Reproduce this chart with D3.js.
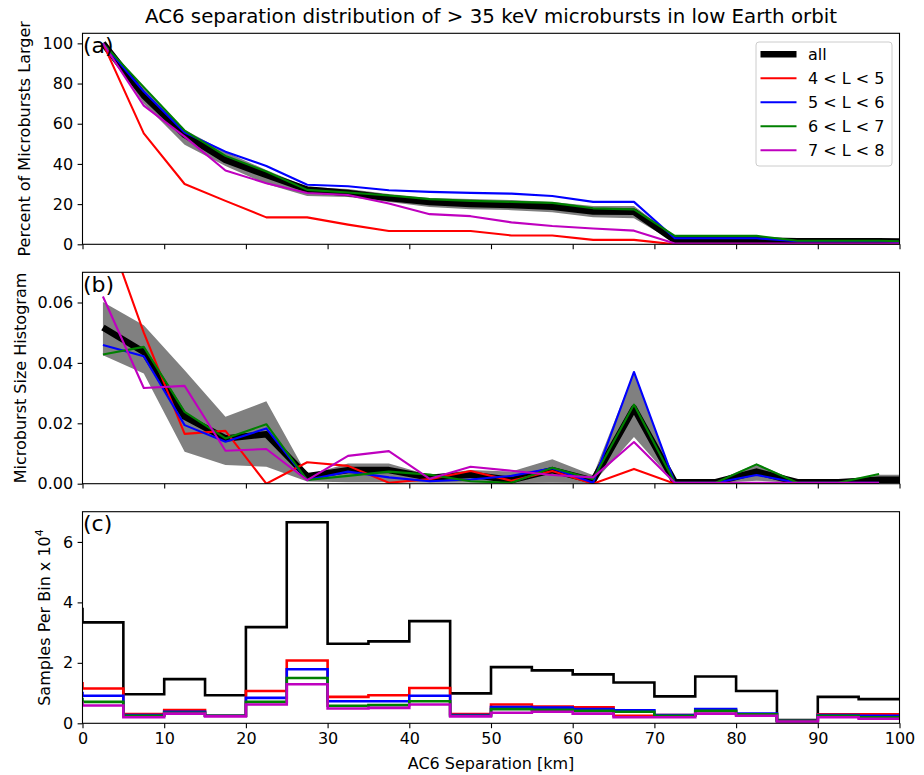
<!DOCTYPE html>
<html>
<head>
<meta charset="utf-8">
<script src="https://cdn.jsdelivr.net/npm/d3@7"></script>
<style>
  html, body { margin: 0; padding: 0; background: #fff; }
  svg { display: block; }
  text { font-family: "DejaVu Sans", sans-serif; fill: #000; }
</style>
</head>
<body>
<svg id="chart" width="924" height="775"></svg>
<script>
// ---------------- DATA ----------------
const chartTitle = "AC6 separation distribution of > 35 keV microbursts in low Earth orbit";
const xLabel = "AC6 Separation [km]";
const xTicks = [0, 10, 20, 30, 40, 50, 60, 70, 80, 90, 100];
const yTicksA = [0, 20, 40, 60, 80, 100];
const yTicksB = [0, 0.02, 0.04, 0.06];
const yTicksC = [0, 2, 4, 6];
const seriesNames = ["all", "4 < L < 5", "5 < L < 6", "6 < L < 7", "7 < L < 8"];

// bin centres (km) for panels (a) and (b)
const binCenters = [2.5, 7.5, 12.5, 17.5, 22.5, 27.5, 32.5, 37.5, 42.5, 47.5, 52.5,
                    57.5, 62.5, 67.5, 72.5, 77.5, 82.5, 87.5, 92.5, 97.5, 102.5];

// (a) Percent of microbursts larger
const aAll     = [100, 74, 54.5, 42, 34.5, 27.3, 25.5, 23, 21, 20, 19.5, 18.7, 16.3, 16.2, 2, 2, 2, 1.5, 1.5, 1.5, 1.2];
const aAllLow  = [100, 70, 49.5, 39, 30, 24, 23.5, 21, 18.5, 17.5, 17, 16, 13.5, 13, 1, 1, 1, 1, 1, 1, 1];
const aAllHigh = [100, 78, 57, 46, 37, 28.5, 27.5, 25, 23, 22.5, 22, 21, 19, 19, 4, 4, 4, 2.5, 2.5, 2.5, 2.3];
const aL45 = [100, 55.2, 30, 21.6, 13.4, 13.4, 9.8, 6.6, 6.6, 6.6, 4.4, 4.4, 2.2, 2.2, 0, 0, 0, 0, 0, 0, 0];
const aL56 = [100, 76, 55.6, 46.1, 39, 29.6, 28.9, 26.9, 26.1, 25.6, 25.2, 24, 21.1, 21.1, 3, 3, 3, 1.5, 1.5, 1.5, 1.0];
const aL67 = [100, 78.2, 56.6, 44, 36.2, 27.1, 25.8, 24.3, 22.5, 21.6, 21.1, 20.6, 17.9, 17.4, 4.2, 4.2, 4.2, 1.8, 1.8, 1.8, 1.3];
const aL78 = [100, 69, 53.6, 36.7, 30.4, 25.5, 24.5, 20.3, 15, 14, 10.9, 9.1, 7.9, 6.8, 0.4, 0.4, 0.4, 0.4, 0.4, 0.4, 0.4];

// (b) Microburst size histogram
const bAll     = [0.0517, 0.0436, 0.0222, 0.0150, 0.0164, 0.0025, 0.0045, 0.0045, 0.0020, 0.0030, 0.0012,
                  0.0045, 0.0010, 0.0250, 0.0005, 0.0005, 0.0040, 0.0005, 0.0005, 0.0013, 0.0013];
const bAllLow  = [0.0425, 0.0365, 0.0106, 0.0062, 0.0056, 0.0007, 0.0005, 0.0005, 0.0003, 0.0003, 0.0002,
                  0.0003, 0.0002, 0.0155, 0.0002, 0.0002, 0.0010, 0.0002, 0.0002, 0.0002, 0.0002];
const bAllHigh = [0.0602, 0.0525, 0.0376, 0.0222, 0.0273, 0.0029, 0.0067, 0.0067, 0.0028, 0.0045, 0.0040,
                  0.0081, 0.0028, 0.0370, 0.0008, 0.0008, 0.0066, 0.0008, 0.0008, 0.0030, 0.0030];
const bL45 = [0.088, 0.050, 0.0165, 0.0175, 0.0, 0.0071, 0.0059, 0.0003, 0.0015, 0.0042, 0.0010,
              0.0042, 0.0, 0.0049, 0, 0, 0, 0, 0, 0, null];
const bL56 = [0.0459, 0.0422, 0.0194, 0.0139, 0.0183, 0.0012, 0.0040, 0.0021, 0.0008, 0.0014, 0.0026,
              0.0051, 0.0003, 0.0370, 0.0003, 0.0003, 0.0029, 0.0003, 0.0003, 0.0003, null];
const bL67 = [0.0428, 0.0453, 0.0238, 0.0150, 0.0197, 0.0012, 0.0026, 0.0040, 0.0030, 0.0008, 0.0003,
              0.0053, 0.0015, 0.0262, 0.0003, 0.0003, 0.0064, 0.0003, 0.0003, 0.0032, null];
const bL78 = [0.0620, 0.0317, 0.0324, 0.0109, 0.0115, 0.0012, 0.0092, 0.0108, 0.0016, 0.0056, 0.0043,
              0.0029, 0.0021, 0.0138, 0.0003, 0.0003, 0.0003, 0.0003, 0.0003, 0.0003, null];

// (c) Samples per bin x 10^4, bins starting at left edge (km)
const binEdges = [-5, 0, 5, 10, 15, 20, 25, 30, 35, 40, 45, 50, 55, 60, 65, 70, 75, 80, 85, 90, 95];
const cAll = [3.78, 3.34, 0.96, 1.46, 0.93, 3.18, 6.65, 2.63, 2.71, 3.38, 0.99, 1.86, 1.75, 1.62, 1.35, 0.89, 1.55, 1.07, 0.11, 0.875, 0.80];
const cL45 = [1.32, 1.15, 0.31, 0.44, 0.25, 1.07, 2.08, 0.875, 0.93, 1.17, 0.31, 0.62, 0.55, 0.53, 0.25, 0.27, 0.41, 0.30, 0.08, 0.30, 0.30];
const cL56 = [1.00, 0.91, 0.27, 0.38, 0.25, 0.84, 1.79, 0.73, 0.73, 0.91, 0.27, 0.54, 0.52, 0.47, 0.43, 0.27, 0.47, 0.32, 0.08, 0.27, 0.25];
const cL67 = [0.80, 0.71, 0.25, 0.35, 0.25, 0.71, 1.50, 0.58, 0.60, 0.73, 0.25, 0.47, 0.45, 0.41, 0.38, 0.25, 0.41, 0.30, 0.08, 0.25, 0.20];
const cL78 = [0.68, 0.59, 0.20, 0.32, 0.23, 0.62, 1.29, 0.49, 0.51, 0.62, 0.23, 0.35, 0.38, 0.32, 0.20, 0.20, 0.32, 0.25, 0.06, 0.20, 0.15];
const binWidth = 5;

// ---------------- STYLE ----------------
const colors = ["#000000", "#ff0000", "#0000ff", "#008000", "#bf00bf"];
const bandColor = "#808080";
const allWidth = 6.5, lWidth = 2.1, stepWidth = 2.6;
const fs = 16;

// ---------------- LAYOUT ----------------
const svg = d3.select("#chart");
const left = 82.5, right = 899.5;
const panels = [
  { id: "a", top: 33.3, bottom: 244.3, domain: [0, 105], ticks: yTicksA, fmt: d3.format("d"), label: "(a)",
    ylab: "Percent of Microbursts Larger", ylabX: 30 },
  { id: "b", top: 272.3, bottom: 483.7, domain: [0, 0.07], ticks: yTicksB, fmt: d3.format(".2f"), label: "(b)",
    ylab: "Microburst Size Histogram", ylabX: 26 },
  { id: "c", top: 511.7, bottom: 723.3, domain: [0, 7], ticks: yTicksC, fmt: d3.format("d"), label: "(c)",
    ylab: null, ylabX: 50 }
];

const x = d3.scaleLinear().domain([0, 100]).range([left, right]);

// title
svg.append("text").attr("x", (left + right) / 2).attr("y", 23).attr("text-anchor", "middle")
  .style("font-size", "19.8px").text(chartTitle);

panels.forEach(p => {
  p.y = d3.scaleLinear().domain(p.domain).range([p.bottom, p.top]);
  p.g = svg.append("g");
  svg.append("clipPath").attr("id", "clip-" + p.id).append("rect")
    .attr("x", left).attr("y", p.top).attr("width", right - left).attr("height", p.bottom - p.top);
  p.plot = p.g.append("g").attr("clip-path", `url(#clip-${p.id})`);
});

// ---------- panels (a) and (b) ----------
function drawLinePanel(p, all, low, high, series) {
  const area = d3.area().x((d, i) => x(binCenters[i])).y0(d => p.y(d[0])).y1(d => p.y(d[1]));
  p.plot.append("path").datum(low.map((v, i) => [v, high[i]]))
    .attr("d", area).attr("fill", bandColor).attr("stroke", "none");
  const line = d3.line().defined(d => d != null).x((d, i) => x(binCenters[i])).y(d => p.y(d));
  p.plot.append("path").datum(all).attr("d", line).attr("fill", "none")
    .attr("stroke", colors[0]).attr("stroke-width", allWidth).attr("stroke-linejoin", "round");
  series.forEach((s, k) => {
    p.plot.append("path").datum(s).attr("d", line).attr("fill", "none")
      .attr("stroke", colors[k + 1]).attr("stroke-width", lWidth).attr("stroke-linejoin", "round");
  });
}
drawLinePanel(panels[0], aAll, aAllLow, aAllHigh, [aL45, aL56, aL67, aL78]);
drawLinePanel(panels[1], bAll, bAllLow, bAllHigh, [bL45, bL56, bL67, bL78]);

// ---------- panel (c) ----------
{
  const p = panels[2];
  const step = d3.line().curve(d3.curveStepAfter).x(d => x(d[0])).y(d => p.y(d[1]));
  [cAll, cL45, cL56, cL67, cL78].forEach((s, k) => {
    const pts = s.map((v, i) => [binEdges[i], v]);
    pts.push([binEdges[binEdges.length - 1] + binWidth, s[s.length - 1]]);
    p.plot.append("path").datum(pts).attr("d", step).attr("fill", "none")
      .attr("stroke", colors[k]).attr("stroke-width", stepWidth);
  });
}

// ---------- axes ----------
panels.forEach((p, idx) => {
  const yAxis = d3.axisLeft(p.y).tickValues(p.ticks).tickFormat(p.fmt).tickSize(4.9).tickPadding(4.5);
  const ga = p.g.append("g").attr("transform", `translate(${left},0)`).call(yAxis);
  const xAxis = d3.axisBottom(x).tickValues(xTicks).tickSize(4.9).tickPadding(4.5)
    .tickFormat(idx === 2 ? d3.format("d") : () => "");
  const gx = p.g.append("g").attr("transform", `translate(0,${p.bottom})`).call(xAxis);
  [ga, gx].forEach(g => {
    g.select(".domain").remove();
    g.selectAll("line").attr("stroke", "#000").attr("stroke-width", 1.1);
    g.selectAll("text").style("font-size", fs + "px").style("font-family", "DejaVu Sans");
  });
  // frame
  p.g.append("rect").attr("x", left).attr("y", p.top).attr("width", right - left).attr("height", p.bottom - p.top)
    .attr("fill", "none").attr("stroke", "#000").attr("stroke-width", 1.1);
  // panel label
  p.g.append("text").attr("x", 83).attr("y", p.top + 19.5).style("font-size", "22px").text(p.label);
  // y label
  const yl = p.g.append("text")
    .attr("transform", `translate(${p.ylabX},${(p.top + p.bottom) / 2}) rotate(-90)`)
    .attr("text-anchor", "middle").style("font-size", fs + "px");
  if (p.ylab) yl.text(p.ylab);
  else {
    yl.append("tspan").text("Samples Per Bin x 10");
    yl.append("tspan").attr("dy", -7).style("font-size", "11px").text("4");
  }
});

// x label
svg.append("text").attr("x", (left + right) / 2).attr("y", 769).attr("text-anchor", "middle")
  .style("font-size", fs + "px").text(xLabel);

// ---------- legend ----------
{
  const lg = svg.append("g").attr("transform", "translate(756,42)");
  lg.append("rect").attr("width", 136).attr("height", 124).attr("rx", 3)
    .attr("fill", "#fff").attr("fill-opacity", 0.8).attr("stroke", "#cccccc").attr("stroke-width", 1);
  seriesNames.forEach((name, i) => {
    const yy = 12.3 + i * 24;
    lg.append("line").attr("x1", 4.5).attr("x2", 40.5).attr("y1", yy).attr("y2", yy)
      .attr("stroke", colors[i]).attr("stroke-width", i === 0 ? allWidth : lWidth);
    lg.append("text").attr("x", 52).attr("y", yy + 5.8).style("font-size", fs + "px").text(name);
  });
}
</script>
</body>
</html>
